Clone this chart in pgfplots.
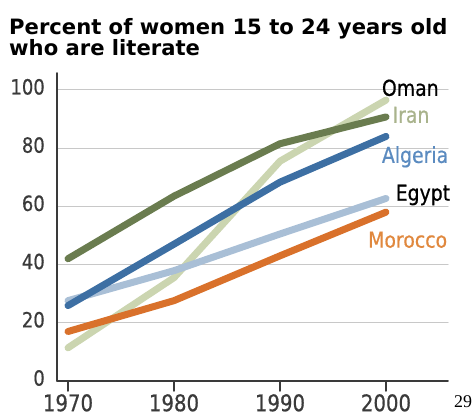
\documentclass[border=0pt]{standalone}
\usepackage{pgfplots}
\pgfplotsset{compat=1.18}
\usepackage{fontspec}
\setmainfont{DejaVu Sans}
\newfontfamily\tah{DejaVu Sans}[FakeStretch=0.86,FakeBold=0.6]
\newfontfamily\titlefont{DejaVu Sans}
\newfontfamily\serif{Liberation Serif}
\definecolor{omanc}{HTML}{6A7C4F}
\definecolor{iranc}{HTML}{CBD5B0}
\definecolor{algc}{HTML}{3D6FA3}
\definecolor{egyc}{HTML}{A9BFD6}
\definecolor{morc}{HTML}{D9712B}
\definecolor{iranl}{HTML}{A9B38C}
\definecolor{algl}{HTML}{5B8BC0}
\definecolor{morl}{HTML}{E0883E}
\definecolor{gridc}{HTML}{C8C8C8}
\definecolor{axc}{HTML}{3A3A3A}
\begin{document}
\begin{tikzpicture}
\path[use as bounding box] (0,0) rectangle (474bp,415bp);
\node[anchor=base west, inner sep=0pt] at (9bp,380bp) {\titlefont\bfseries\fontsize{21.2}{21}\selectfont Percent of women 15 to 24 years old};
\node[anchor=base west, inner sep=0pt] at (9bp,359bp) {\titlefont\bfseries\fontsize{21.2}{21}\selectfont who are literate};
\node[anchor=center, inner sep=0pt] at (463bp,13bp) {\serif\fontsize{18}{18}\selectfont 29};
\begin{axis}[
  at={(57bp,34bp)}, anchor=south west,
  scale only axis, width=391bp, height=308bp,
  xmin=1968.96, xmax=2005.85, ymin=0, ymax=105.8,
  axis x line=bottom, axis y line=left,
  axis line style={draw=axc, line width=1.5bp, -},
  xtick={1970,1980,1990,2000},
  xticklabels={1970,1980,1990,2000},
  ytick={0,20,40,60,80,100},
  yticklabels={0,20,40,60,80,100},
  tick align=outside,
  major tick length=10bp,
  xtick style={draw=axc, line width=1.5bp},
  ytick style={draw=none},
  ymajorgrids, grid style={draw=gridc, line width=1bp},
  xticklabel style={font=\tah\fontsize{23}{23}\selectfont, text=axc, inner sep=0pt, anchor=north, yshift=-3bp},
  yticklabel style={font=\tah\fontsize{21}{21}\selectfont, text=axc, inner sep=0pt, anchor=east, xshift=-2bp, yshift=3bp},
  clip=false,
  line join=round, line cap=round,
]
\addplot[iranc, line width=7bp] coordinates {(1970,11.4) (1980,35.5) (1990,75.5) (2000,96.5)};
\addplot[egyc, line width=7bp] coordinates {(1970,27.6) (1980,37.9) (1990,50.5) (2000,62.7)};
\addplot[algc, line width=7bp] coordinates {(1970,25.9) (1980,47) (1990,68.3) (2000,84)};
\addplot[morc, line width=7bp] coordinates {(1970,17) (1980,27.6) (1990,43) (2000,58)};
\addplot[omanc, line width=7bp] coordinates {(1970,42) (1980,63.5) (1990,81.5) (2000,90.7)};
\node[anchor=west, inner sep=0pt, text=black] at (axis cs:1999.6,100.7) {\tah\fontsize{22}{22}\selectfont Oman};
\node[anchor=west, inner sep=0pt, text=iranl] at (axis cs:2000.6,91.4) {\tah\fontsize{22}{22}\selectfont Iran};
\node[anchor=west, inner sep=0pt, text=algl] at (axis cs:1999.6,77) {\tah\fontsize{22}{22}\selectfont Algeria};
\node[anchor=west, inner sep=0pt, text=black] at (axis cs:2000.9,63.9) {\tah\fontsize{22}{22}\selectfont Egypt};
\node[anchor=west, inner sep=0pt, text=morl] at (axis cs:1998.3,48.5) {\tah\fontsize{22}{22}\selectfont Morocco};
\end{axis}
\end{tikzpicture}
\end{document}
